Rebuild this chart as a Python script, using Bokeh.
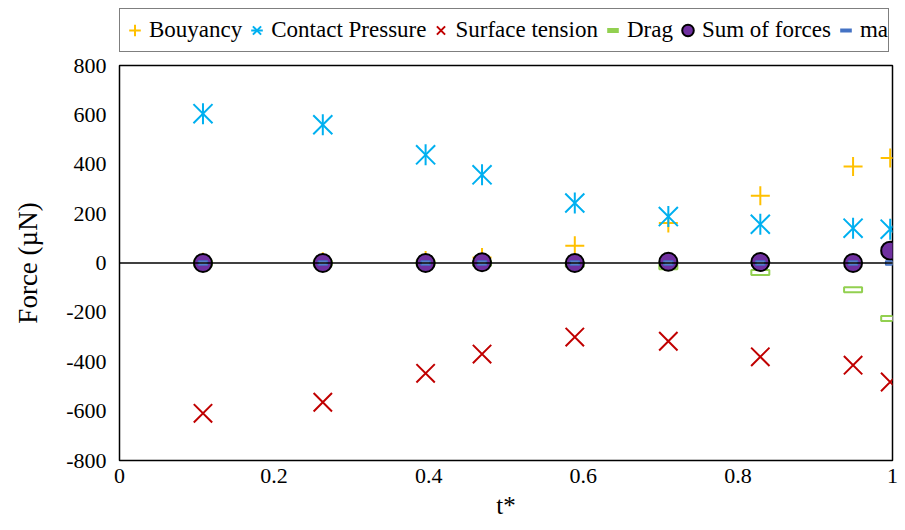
import math
from bokeh.plotting import figure
from bokeh.layouts import column
from bokeh.models import (Legend, LegendItem, Span, FixedTicker, NumeralTickFormatter,
                          Range1d, ColumnDataSource)
from bokeh.embed import file_html
from bokeh.resources import INLINE

t = [0.108, 0.263, 0.396, 0.469, 0.589, 0.710, 0.829, 0.949, 0.997]
bouyancy = [3, 5, 10, 22, 70, 162, 272, 391, 425]
contact_pressure = [605, 560, 438, 357, 243, 188, 157, 141, 137]
surface_tension = [-609, -564, -447, -369, -300, -317, -380, -414, -482]
drag = [0, 0, 0, -1, -5, -15, -38, -108, -225]
sum_of_forces = [0, 0, 0, 3, 0, 5, 4, 0, 50]
ma = [0, 0, 0, 0, 0, 0, 0, 0, 0]

series_names = ["Bouyancy", "Contact Pressure", "Surface tension", "Drag", "Sum of forces", "ma"]
x_ticks = [0, 0.2, 0.4, 0.6, 0.8, 1]
y_ticks = [-800, -600, -400, -200, 0, 200, 400, 600, 800]

FONT = "Liberation Serif"
C_B, C_CP, C_ST, C_D, C_S, C_MA = "#FFC000", "#00B0F0", "#C00000", "#92D050", "#7030A0", "#4472C4"

# ---------------- main plot ----------------
p = figure(width=905, height=477, output_backend="svg", toolbar_location=None,
           x_range=Range1d(x_ticks[0], x_ticks[-1]), y_range=Range1d(y_ticks[0], y_ticks[-1]),
           min_border_left=119, min_border_right=13, min_border_top=12, min_border_bottom=70)
p.background_fill_color = "white"
p.border_fill_color = "white"
p.grid.visible = False
p.outline_line_color = "black"
p.outline_line_width = 1.5
p.outline_line_alpha = 1

for ax in (p.xaxis[0], p.yaxis[0]):
    ax.axis_line_color = None
    ax.major_tick_line_color = None
    ax.minor_tick_line_color = None
    ax.major_tick_out = 0
    ax.major_tick_in = 0
    ax.minor_tick_out = 0
    ax.minor_tick_in = 0
    ax.major_label_text_font = FONT
    ax.major_label_text_color = "black"
    ax.axis_label_text_font = FONT
    ax.axis_label_text_font_style = "normal"
    ax.axis_label_text_color = "black"

p.xaxis.ticker = FixedTicker(ticks=x_ticks)
p.yaxis.ticker = FixedTicker(ticks=y_ticks)
p.xaxis.formatter = NumeralTickFormatter(format="0.[0]")
p.yaxis.formatter = NumeralTickFormatter(format="0")
p.xaxis.major_label_text_font_size = "22px"
p.yaxis.major_label_text_font_size = "22px"
p.xaxis.major_label_standoff = 8
p.yaxis.major_label_standoff = 13
p.xaxis.axis_label = "t*"
p.yaxis.axis_label = "Force (µN)"
p.xaxis.axis_label_text_font_size = "25px"
p.yaxis.axis_label_text_font_size = "27px"
p.xaxis.axis_label_standoff = 6
p.yaxis.axis_label_standoff = 20

p.add_layout(Span(location=0, dimension="width", line_color="black", line_width=1.5))

src = ColumnDataSource(dict(t=t, b=bouyancy, cp=contact_pressure, st=surface_tension,
                            d=drag, s=sum_of_forces, ma=ma))

p.scatter("t", "b", source=src, marker="cross", size=19, line_color=C_B, line_width=2)
p.scatter("t", "cp", source=src, marker="x", size=27, line_color=C_CP, line_width=2)
p.scatter("t", "cp", source=src, marker="dash", angle=math.pi / 2, size=21,
          line_color=C_CP, line_width=2)
p.scatter("t", "st", source=src, marker="x", size=26, line_color=C_ST, line_width=2)
p.rect("t", "d", source=src, width=18, height=5, width_units="screen", height_units="screen",
       fill_color="white", line_color=C_D, line_width=2)
p.scatter("t", "s", source=src, marker="circle", size=18, fill_color=C_S,
          line_color="black", line_width=2)
p.rect("t", "ma", source=src, width=9, height=4, width_units="screen", height_units="screen",
       fill_color="#8FAADC", line_color=C_MA, line_width=1.5)

# ---------------- legend strip ----------------
lg = figure(width=905, height=53, output_backend="svg", toolbar_location=None,
            x_range=Range1d(0, 1), y_range=Range1d(0, 1),
            x_axis_type=None, y_axis_type=None, min_border=0)
lg.outline_line_color = None
lg.grid.visible = False
lg.background_fill_color = "white"
lg.border_fill_color = "white"

nan = float("nan")
e = dict(x=[nan], y=[nan])
l_b = lg.scatter(marker="cross", line_color=C_B, line_width=2, **e)
l_cp1 = lg.scatter(marker="x", line_color=C_CP, line_width=2, **e)
l_cp2 = lg.scatter(marker="dash", angle=math.pi / 2, line_color=C_CP, line_width=2, **e)
l_st = lg.scatter(marker="x", line_color=C_ST, line_width=2, **e)
l_d = lg.scatter(marker="dash", line_color=C_D, line_width=5, **e)
l_s = lg.scatter(marker="circle", fill_color=C_S, line_color="black", line_width=2, **e)
l_ma = lg.scatter(marker="dash", line_color=C_MA, line_width=4, **e)

legend = Legend(items=[
    LegendItem(label=series_names[0], renderers=[l_b]),
    LegendItem(label=series_names[1], renderers=[l_cp1, l_cp2]),
    LegendItem(label=series_names[2], renderers=[l_st]),
    LegendItem(label=series_names[3], renderers=[l_d]),
    LegendItem(label=series_names[4], renderers=[l_s]),
    LegendItem(label=series_names[5], renderers=[l_ma]),
], orientation="horizontal", location=(0, 1), margin=0, padding=0, spacing=0,
    glyph_width=29, glyph_height=42, label_standoff=0, label_height=42,
    label_text_font=FONT, label_text_font_size="23px", label_text_color="black",
    border_line_color="black", border_line_width=1.5, background_fill_color="white",
    background_fill_alpha=1)
lg.add_layout(legend, "center")

layout = column(lg, p, spacing=0)
open("out.html", "w").write(file_html(layout, INLINE))
